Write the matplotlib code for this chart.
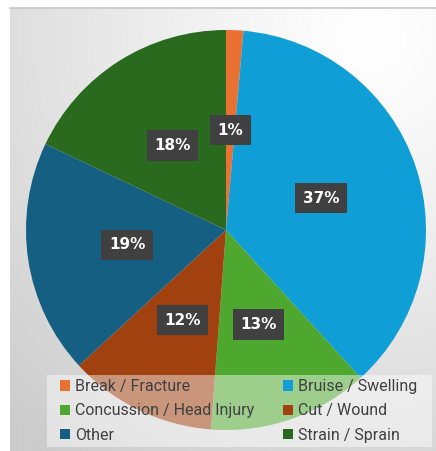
import numpy as np
import matplotlib
matplotlib.use("Agg")
import matplotlib.pyplot as plt
from matplotlib.patches import Rectangle

categories = ["Break / Fracture", "Bruise / Swelling", "Concussion / Head Injury",
              "Cut / Wound", "Other", "Strain / Sprain"]
values = [1.4, 37, 13, 12, 19, 18]
colors = ["#E97132", "#0F9ED5", "#4EA72E", "#A0410F", "#156082", "#2A6A1F"]

W, H = 436, 451
fig = plt.figure(figsize=(W / 100, H / 100), dpi=100)
fig.patch.set_facecolor("white")

# background gradient panel
bg = fig.add_axes([10 / W, 0, (W - 10) / W, (H - 8) / H])
bg.set_axis_off()
nx, ny = 426, 443
xx, yy = np.meshgrid(np.arange(nx), np.arange(ny))
d = np.hypot(xx - 360, yy - 30) / 520.0
d = np.clip(d, 0, 1) ** 1.2
c = 1.0 - d * (1.0 - 0.80)
img = np.dstack([c, c, c])
bg.imshow(img, aspect="auto", extent=[0, 1, 0, 1], origin="upper")
bg.set_xlim(0, 1)
bg.set_ylim(0, 1)
fig.add_artist(plt.Line2D([10 / W, 1], [(H - 7.5) / H] * 2, color="#c8c8c8", lw=1.2))

# pie
cx, cy, R = 226, 230, 200
ax = fig.add_axes([(cx - R) / W, (H - cy - R) / H, 2 * R / W, 2 * R / H])
ax.set_axis_off()
wedges, texts, autotexts = ax.pie(
    values, colors=colors, startangle=90, counterclock=False,
    autopct="%1.0f%%", pctdistance=0.5, radius=1,
    wedgeprops=dict(linewidth=0),
    textprops=dict(color="white", fontsize=11, fontweight="bold", family="DejaVu Sans"))
ax.set_xlim(-1, 1)
ax.set_ylim(-1, 1)
for t in autotexts:
    t.set_bbox(dict(boxstyle="square,pad=0.5", facecolor="#404040", edgecolor="none"))

# legend panel
lx0, ly0, lx1, ly1 = 47, 375, 432, 447
fig.add_artist(Rectangle((lx0 / W, (H - ly1) / H), (lx1 - lx0) / W, (ly1 - ly0) / H,
                         transform=fig.transFigure, facecolor="white", alpha=0.45,
                         edgecolor="none", zorder=5))
# row-major order (legend fills column by column)
order = [0, 2, 4, 1, 3, 5]
leg = fig.legend([wedges[i] for i in order], [categories[i] for i in order],
                 ncol=2, loc="center left",
                 bbox_to_anchor=(46 / W, 1 - (ly0 + ly1) / 2 / H),
                 frameon=False, handlelength=0.62, handleheight=0.62,
                 handletextpad=0.3, columnspacing=1.8, labelspacing=0.58,
                 prop=dict(family="Roboto", size=11.5))
for t in leg.get_texts():
    t.set_color("#404040")
leg.set_zorder(6)

fig.savefig("out.png", dpi=100)
